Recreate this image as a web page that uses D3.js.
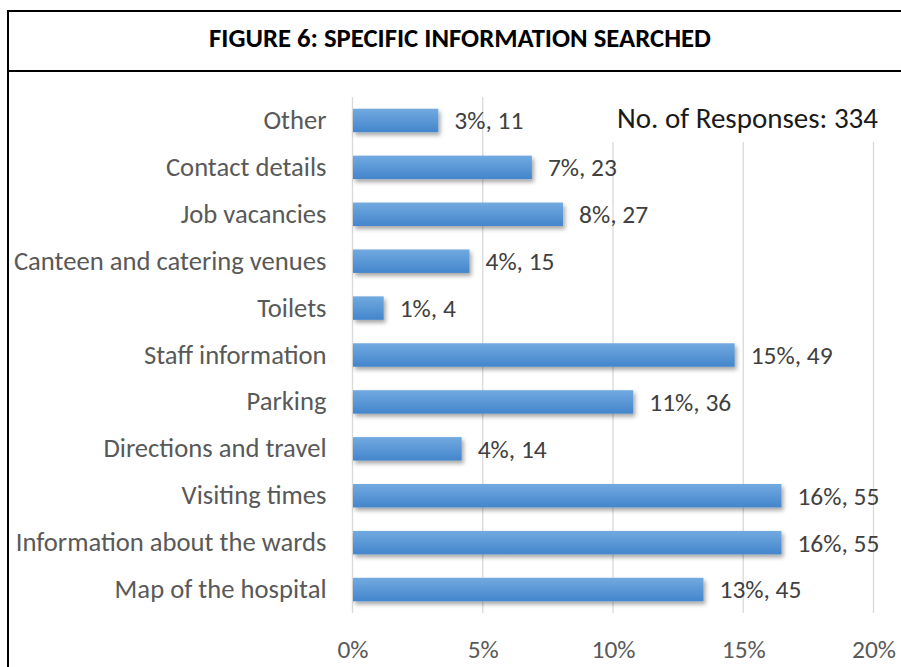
<!DOCTYPE html>
<html>
<head>
<meta charset="utf-8">
<script src="https://cdn.jsdelivr.net/npm/d3@7"></script>
<style>
  html, body { margin: 0; padding: 0; background: #fff; }
  svg { display: block; }
</style>
</head>
<body>
<svg id="chart" width="901" height="667"></svg>
<script>
// ---- data ----
const title = "FIGURE 6: SPECIFIC INFORMATION SEARCHED";
const categories = ["Other", "Contact details", "Job vacancies", "Canteen and catering venues", "Toilets",
  "Staff information", "Parking", "Directions and travel", "Visiting times",
  "Information about the wards", "Map of the hospital"];
const counts = [11, 23, 27, 15, 4, 49, 36, 14, 55, 55, 45];
const pctLabels = ["3%", "7%", "8%", "4%", "1%", "15%", "11%", "4%", "16%", "16%", "13%"];
const totalResponses = 334;
const tickValues = [0, 5, 10, 15, 20];
const noteText = "No. of Responses: " + totalResponses;

const FONT = "Carlito, Calibri, Lato, 'Open Sans', sans-serif";
const svg = d3.select("#chart");

// fit font-size so a reference string has a target width
function fitSize(str, width, weight) {
  const t = svg.append("text").attr("font-family", FONT).attr("font-size", 100)
    .attr("font-weight", weight || "normal").text(str);
  const w = t.node().getComputedTextLength();
  t.remove();
  return 100 * width / w;
}
const catSize = fitSize("Information about the wards", 311);
const lblSize = fitSize("16%, 55", 82);
const tickSize = fitSize("20%", 44);
const noteSize = fitSize(noteText, 261);
const titleSize = fitSize(title, 502, "bold");

// defs
const defs = svg.append("defs");
const grad = defs.append("linearGradient").attr("id", "barGrad")
  .attr("x1", 0).attr("y1", 0).attr("x2", 0).attr("y2", 1);
grad.append("stop").attr("offset", "0%").attr("stop-color", "#72aae0");
grad.append("stop").attr("offset", "100%").attr("stop-color", "#4385cc");
const f = defs.append("filter").attr("id", "shadow").attr("x", "-10%").attr("y", "-30%")
  .attr("width", "130%").attr("height", "180%");
f.append("feDropShadow").attr("dx", 2).attr("dy", 3).attr("stdDeviation", 2)
  .attr("flood-color", "#000").attr("flood-opacity", 0.35);

// frame
svg.append("rect").attr("x", 8).attr("y", 11).attr("width", 920).attr("height", 700)
  .attr("fill", "none").attr("stroke", "#000").attr("stroke-width", 2);
svg.append("line").attr("x1", 8).attr("x2", 901).attr("y1", 71).attr("y2", 71)
  .attr("stroke", "#000").attr("stroke-width", 2);
svg.append("text").attr("x", 460).attr("y", 47).attr("text-anchor", "middle")
  .attr("font-family", FONT).attr("font-weight", "bold").attr("font-size", titleSize)
  .attr("fill", "#000").text(title);

// scales
const x = d3.scaleLinear().domain([0, 20]).range([352.5, 873.5]);
const y = d3.scaleBand().domain(categories).range([97, 613]).paddingInner(0.5).paddingOuter(0.25);

// gridlines
svg.append("g").selectAll("line").data(tickValues).join("line")
  .attr("x1", d => x(d)).attr("x2", d => x(d))
  .attr("y1", 97).attr("y2", 613)
  .attr("stroke", "#d9d9d9").attr("stroke-width", 1.3);

// note box (white background hides gridlines)
svg.append("rect").attr("x", 603).attr("y", 96).attr("width", 290).attr("height", 46).attr("fill", "#fff");
svg.append("text").attr("x", 878).attr("y", 128).attr("text-anchor", "end")
  .attr("font-family", FONT).attr("font-size", noteSize).attr("fill", "#1a1a1a").text(noteText);

// bars
const data = categories.map((c, i) => ({ c, n: counts[i], p: counts[i] / totalResponses * 100, lbl: pctLabels[i] }));
svg.append("g").attr("filter", "url(#shadow)").selectAll("rect").data(data).join("rect")
  .attr("x", x(0) + 0.5).attr("y", d => y(d.c))
  .attr("width", d => x(d.p) - x(0) - 0.5).attr("height", y.bandwidth())
  .attr("fill", "url(#barGrad)");

// data labels
svg.append("g").selectAll("text").data(data).join("text")
  .attr("x", d => x(d.p) + 16).attr("y", d => y(d.c) + y.bandwidth() / 2)
  .attr("dy", "0.35em")
  .attr("font-family", FONT).attr("font-size", lblSize).attr("fill", "#404040")
  .text(d => d.lbl + ", " + d.n);

// y axis labels
const yAxis = d3.axisLeft(y).tickSize(0).tickPadding(26);
const gy = svg.append("g").attr("transform", `translate(${x(0)},0)`).call(yAxis);
gy.select(".domain").remove();
gy.selectAll("text").attr("font-family", FONT).attr("font-size", catSize).attr("fill", "#595959");

// x axis labels
const xAxis = d3.axisBottom(x).tickValues(tickValues).tickFormat(d => d + "%").tickSize(0).tickPadding(0);
const gx = svg.append("g").attr("transform", "translate(0,640)").call(xAxis);
gx.select(".domain").remove();
gx.selectAll("text").attr("font-family", FONT).attr("font-size", tickSize).attr("fill", "#595959");
</script>
</body>
</html>
